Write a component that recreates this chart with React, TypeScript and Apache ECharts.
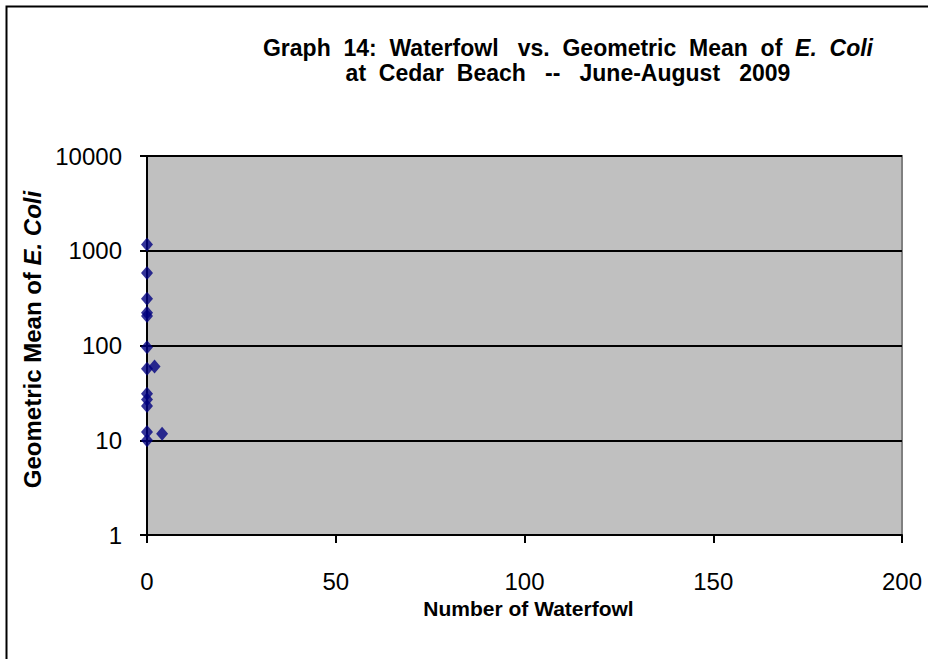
import React, { useEffect, useRef } from "react";
import * as echarts from "echarts";

const waterfowl = [0, 0, 0, 0, 0, 0, 0, 2, 0, 0, 0, 0, 4, 0];
const geoMeanEColi = [1165, 583, 311, 222, 205, 96, 57, 60, 31, 27, 23, 12.2, 11.7, 10];
const xTicks = [0, 50, 100, 150, 200];
const yTicks = [1, 10, 100, 1000, 10000];

export default function App() {
  const ref = useRef<HTMLDivElement>(null);
  useEffect(() => {
    document.body.style.margin = "0";
    const chart = echarts.init(ref.current!, undefined, { renderer: "svg" });
    const font = "Liberation Sans";
    const b = { fontFamily: font, fontSize: 23, fontWeight: "bold", color: "#000", lineHeight: 29 };
    const bi = { ...b, fontStyle: "italic" };
    chart.setOption({
      animation: false,
      backgroundColor: "#ffffff",
      title: [
        {
          text: "{b|Graph  14:  Waterfowl   vs.  Geometric  Mean  of  }{bi|E.  Coli}",
          left: 563,
          top: 28,
          textAlign: "center",
          textStyle: { rich: { b, bi } },
        },
        {
          text: "{b|at  Cedar  Beach   --   June-August   2009}",
          left: 563,
          top: 53,
          textAlign: "center",
          textStyle: { rich: { b } },
        },
      ],
      graphic: [
        {
          type: "rect",
          shape: { x: 6.5, y: 6.5, width: 940, height: 680 },
          style: { fill: "none", stroke: "#000", lineWidth: 2 },
          silent: true,
        },
      ],
      grid: {
        left: 147,
        top: 156,
        width: 755,
        height: 379,
        show: true,
        backgroundColor: "#C0C0C0",
        borderColor: "#808080",
        borderWidth: 2,
      },
      xAxis: {
        type: "value",
        min: xTicks[0],
        max: xTicks[xTicks.length - 1],
        interval: 50,
        name: "Number of Waterfowl",
        nameLocation: "middle",
        nameGap: 60,
        nameTextStyle: { fontFamily: font, fontSize: 21, fontWeight: "bold", color: "#000", padding: [0, 0, 0, 8] },
        axisLine: { show: true, lineStyle: { color: "#000", width: 2 } },
        axisTick: { show: true, inside: false, length: 8, lineStyle: { color: "#000", width: 2 } },
        axisLabel: { fontFamily: font, fontSize: 24, color: "#000", margin: 34 },
        splitLine: { show: false },
      },
      yAxis: {
        type: "log",
        logBase: 10,
        min: yTicks[0],
        max: yTicks[yTicks.length - 1],
        name: "{b|Geometric Mean of }{bi|E. Coli}",
        nameLocation: "middle",
        nameGap: 82,
        nameTextStyle: {
          padding: [0, 0, 0, 12],
          rich: {
            b: { fontFamily: font, fontSize: 24, fontWeight: "bold", color: "#000" },
            bi: { fontFamily: font, fontSize: 24, fontWeight: "bold", fontStyle: "italic", color: "#000" },
          },
        },
        axisLine: { show: true, lineStyle: { color: "#000", width: 2 } },
        axisTick: { show: true, inside: false, length: 7, lineStyle: { color: "#000", width: 2 } },
        axisLabel: { fontFamily: font, fontSize: 24, color: "#000", margin: 25, formatter: (v: number) => String(v) },
        splitLine: { show: true, lineStyle: { color: "#000", width: 2 } },
      },
      series: [
        {
          type: "scatter",
          data: waterfowl.map((x, i) => [x, geoMeanEColi[i]]),
          symbol: "diamond",
          symbolSize: [12, 14],
          itemStyle: { color: "#000080" },
        },
      ],
    });
    return () => chart.dispose();
  }, []);
  return <div ref={ref} style={{ width: 928, height: 659 }} />;
}
